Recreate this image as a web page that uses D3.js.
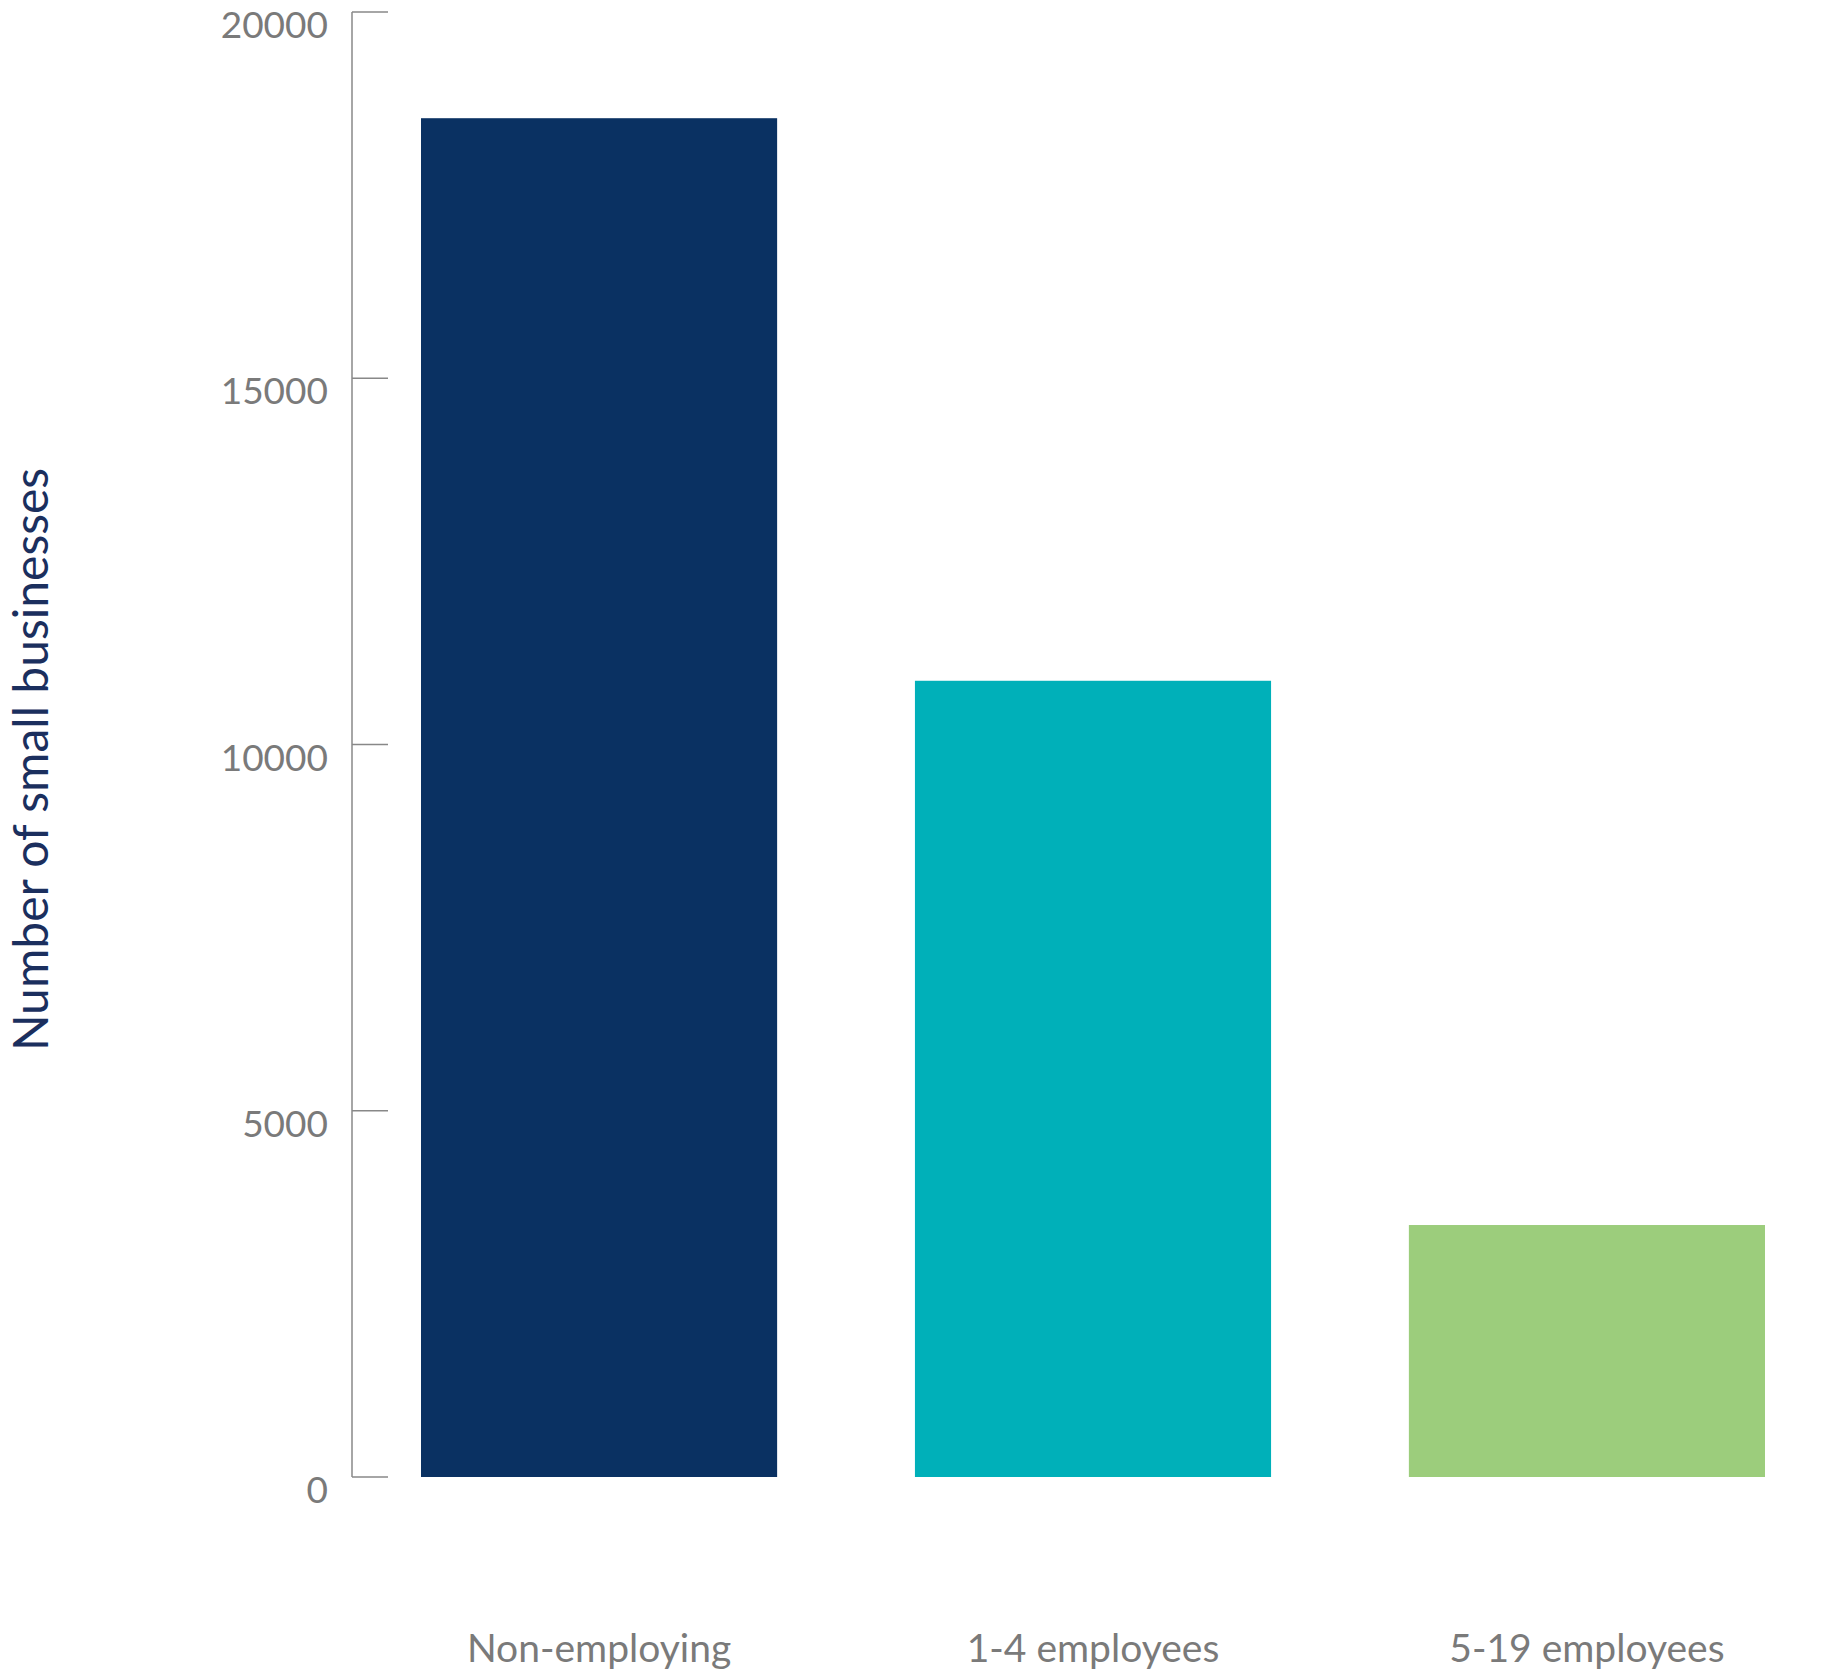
<!DOCTYPE html>
<html lang="en">
<head>
<meta charset="UTF-8">
<title>Small businesses by size</title>
<style>
  body { margin: 0; background: #fff; }
  .tick text { font-family: 'Lato', sans-serif; fill: #7a7a7a; }
</style>
</head>
<body>
<div id="chart"></div>
<script src="https://d3js.org/d3.v7.min.js"></script>
<script>
const categories = ["Non-employing", "1-4 employees", "5-19 employees"];
const values = [18550, 10870, 3440];
const colors = ["#0a3162", "#00b0b9", "#9ccd7c"];
const yTicks = [0, 5000, 10000, 15000, 20000];

const width = 1827, height = 1671;

const svg = d3.select('#chart').append('svg')
    .attr('width', width)
    .attr('height', height);

const x = d3.scaleBand()
    .domain(categories)
    .range([421, 1765])
    .paddingInner(0.279)
    .paddingOuter(0);

const y = d3.scaleLinear()
    .domain([0, 20000])
    .range([1477, 12]);

// y axis: line on the left, ticks pointing into the plot
const yAxis = svg.append('g').attr('transform', 'translate(352,0)');
yAxis.append('line')
    .attr('y1', y(0)).attr('y2', y(20000))
    .attr('stroke', '#888').attr('stroke-width', 1.5);
const tick = yAxis.selectAll('.tick').data(yTicks).enter()
    .append('g').attr('class', 'tick')
    .attr('transform', d => `translate(0,${y(d)})`);
tick.append('line').attr('x1', 0).attr('x2', 36)
    .attr('stroke', '#888').attr('stroke-width', 1.5);
tick.append('text')
    .attr('x', -24).attr('dy', 26)
    .attr('text-anchor', 'end')
    .style('font-size', '37px')
    .text(d => d);

svg.selectAll('.bar').data(values).enter()
    .append('rect')
    .attr('x', (d, i) => x(categories[i]))
    .attr('width', x.bandwidth())
    .attr('y', d => y(d))
    .attr('height', d => y(0) - y(d))
    .attr('fill', (d, i) => colors[i]);

svg.selectAll('.cat').data(categories).enter()
    .append('text')
    .attr('x', d => x(d) + x.bandwidth() / 2)
    .attr('y', 1662)
    .attr('text-anchor', 'middle')
    .style('font-family', "'Lato', sans-serif")
    .style('font-size', '39px')
    .attr('fill', '#7a7a7a')
    .text(d => d);

svg.append('text')
    .attr('transform', `translate(48,${y(10000) + 15}) rotate(-90)`)
    .attr('text-anchor', 'middle')
    .style('font-family', "'Lato', sans-serif")
    .style('font-size', '48px')
    .attr('fill', '#1b2f5e')
    .text('Number of small businesses');
</script>
</body>
</html>
